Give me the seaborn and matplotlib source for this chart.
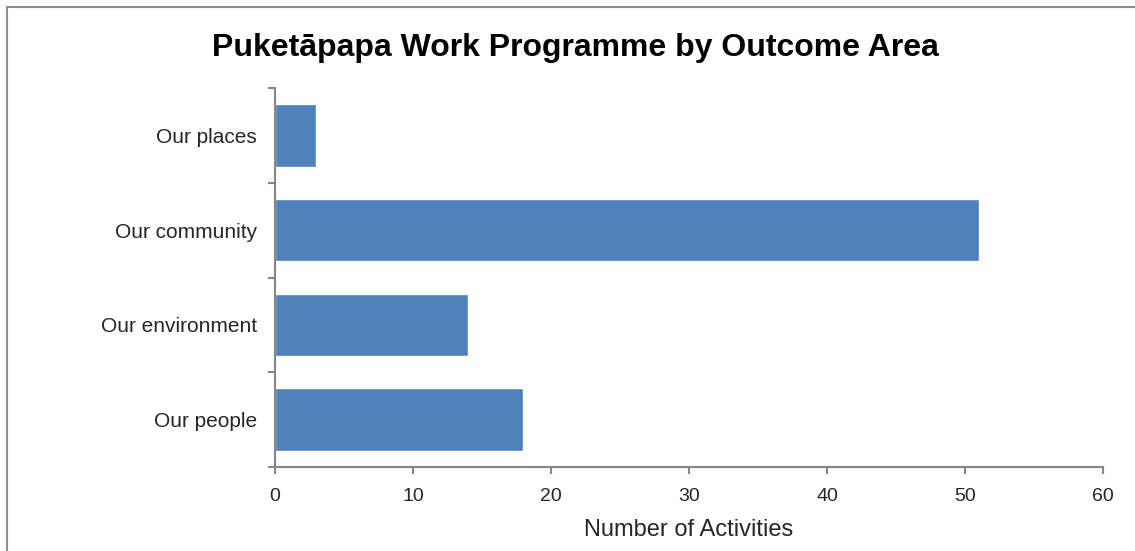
import matplotlib
matplotlib.use("Agg")
import matplotlib.pyplot as plt
from matplotlib.patches import Rectangle
import seaborn as sns
import pandas as pd

categories = ["Our places", "Our community", "Our environment", "Our people"]
values = [3, 51, 14, 18]
x_ticks = [0, 10, 20, 30, 40, 50, 60]

title = "Puketāpapa Work Programme by Outcome Area"
xlabel = "Number of Activities"

sns.set_style("white")
plt.rcParams['font.family'] = ['Liberation Sans', 'DejaVu Sans']

df = pd.DataFrame({"Outcome": categories, "Activities": values})

W, H = 1135, 551
fig = plt.figure(figsize=(W / 100, H / 100), dpi=100)
ax = fig.add_axes([275 / W, 1 - 467 / H, (1103 - 275) / W, (467 - 88) / H])

sns.barplot(data=df, y="Outcome", x="Activities", orient="h", color="#4F81BD",
            saturation=1, width=0.66, ax=ax)

axis_col = "#868686"
text_col = "#262626"
ax.set_xlim(0, 60)
ax.set_ylim(len(categories) - 0.5, -0.5)
ax.set_xticks(x_ticks)
ax.set_xticklabels([str(t) for t in x_ticks], fontsize=14, color=text_col)
ax.set_yticks(range(len(categories)))
ax.set_yticklabels(categories, fontsize=15, color=text_col)
ax.set_yticks([i - 0.5 for i in range(len(categories) + 1)], minor=True)
ax.tick_params(axis="y", which="major", left=True, length=0, pad=13)
ax.tick_params(axis="y", which="minor", left=True, length=5, width=1.5, color=axis_col, direction="out")
ax.tick_params(axis="x", which="major", bottom=True, length=5, width=1.5, color=axis_col,
               direction="out", pad=10)

for s in ["top", "right"]:
    ax.spines[s].set_visible(False)
for s in ["left", "bottom"]:
    ax.spines[s].set_color(axis_col)
    ax.spines[s].set_linewidth(1.5)

ax.set_ylabel("")
ax.set_xlabel(xlabel, fontsize=17, color=text_col, labelpad=10)

fig.text(0.507, 1 - 48 / H, title, ha="center", va="center", fontsize=23,
         fontweight="bold", color="black")

fig.patches.append(Rectangle((7 / W, -0.1), 1.2, 1.1 - 7 / H, transform=fig.transFigure,
                             fill=False, edgecolor="#8C8C8C", linewidth=1.5))

fig.savefig("out.png", dpi=100)
